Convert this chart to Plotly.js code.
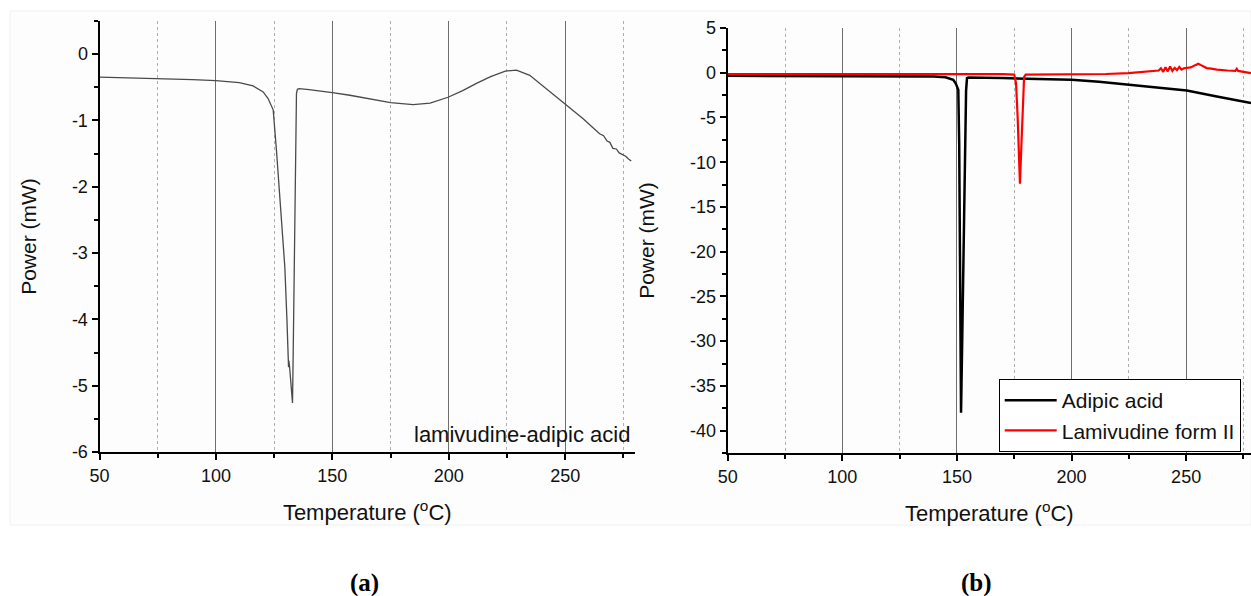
<!DOCTYPE html>
<html>
<head>
<meta charset="utf-8">
<script src="https://cdn.plot.ly/plotly-3.0.1.min.js"></script>
<style>html,body{margin:0;padding:0;background:#fff;}#chart{width:1251px;height:596px;}</style>
</head>
<body>
<div id="chart"></div>
<script>
// Panel (a): lamivudine-adipic acid
const tempA = [50, 60, 75, 90, 100, 110, 116, 120.3, 122.4, 124.6, 126.0, 127.5, 128.9, 129.6, 130.5, 131.0, 131.2, 131.3, 131.6, 132.3, 132.9, 133.2, 133.6, 134.0, 134.3, 134.6, 135.0, 135.8, 140, 144.6, 150, 157.5, 165, 175, 184.7, 192, 199.7, 206, 211.9, 218, 224.3, 229.1, 234.8, 241.9, 249.5, 257.6, 264.8, 266.5, 268, 269.2, 270.5, 272, 273.2, 274.4, 276, 277.2, 278.4];
const powerA = [-0.347, -0.355, -0.367, -0.385, -0.40, -0.43, -0.48, -0.57, -0.67, -0.84, -1.45, -2.2, -2.96, -3.21, -4.0, -4.62, -4.72, -4.62, -4.7, -5.0, -5.26, -4.5, -3.46, -2.4, -1.45, -0.59, -0.53, -0.52, -0.535, -0.553, -0.58, -0.62, -0.67, -0.73, -0.76, -0.74, -0.65, -0.55, -0.44, -0.34, -0.256, -0.24, -0.32, -0.52, -0.74, -0.97, -1.20, -1.23, -1.31, -1.33, -1.42, -1.43, -1.49, -1.51, -1.54, -1.58, -1.61];

// Panel (b): Adipic acid
const tempAdipic = [50, 75, 100, 125, 140, 145, 148.4, 149.5, 150.6, 151.0, 151.4, 151.8, 152.3, 153.0, 153.6, 154.0, 154.4, 155, 170, 185, 200, 212, 224.8, 237, 250.3, 263.4, 275, 278.3];
const powerAdipic = [-0.34, -0.35, -0.37, -0.39, -0.42, -0.5, -0.78, -1.2, -1.9, -8, -25, -38, -30, -18, -8, -2, -0.6, -0.52, -0.6, -0.68, -0.78, -1.0, -1.34, -1.65, -1.98, -2.65, -3.21, -3.39];

// Panel (b): Lamivudine form II
const tempLami = [50, 100, 150, 170, 175, 175.8, 176.5, 177.0, 177.5, 178.0, 178.6, 179.3, 180, 200, 215, 224.8, 230, 235.7, 238, 239, 240, 241, 242, 243, 244, 245, 246, 247, 248, 249, 250.3, 252, 254, 255.3, 256.5, 258, 259, 261, 263.4, 268, 271.5, 272.1, 272.7, 275, 278.3];
const powerLami = [-0.15, -0.13, -0.11, -0.15, -0.2, -1.2, -5, -9.5, -12.4, -9, -4, -0.5, -0.22, -0.2, -0.14, -0.04, 0.08, 0.22, 0.25, 0.5, 0.1, 0.6, 0.15, 0.7, 0.2, 0.55, 0.3, 0.65, 0.35, 0.5, 0.52, 0.6, 0.85, 1.0, 0.85, 0.7, 0.52, 0.45, 0.34, 0.25, 0.22, 0.45, 0.2, 0.1, -0.04];

// Tick labels
const xTicks = [50, 100, 150, 200, 250];
const xTickText = ['50', '100', '150', '200', '250'];
const yTicksA = [0, -1, -2, -3, -4, -5, -6];
const yTickTextA = ['0', '-1', '-2', '-3', '-4', '-5', '-6'];
const yTicksB = [5, 0, -5, -10, -15, -20, -25, -30, -35, -40];
const yTickTextB = ['5', '0', '-5', '-10', '-15', '-20', '-25', '-30', '-35', '-40'];

const FONT = 'Liberation Sans, Arial, sans-serif';

const traces = [
  {x: tempA, y: powerA, type: 'scatter', mode: 'lines', name: 'lamivudine-adipic acid',
   line: {color: '#4a4a4a', width: 1.3}, xaxis: 'x', yaxis: 'y', showlegend: false},
  {x: tempAdipic, y: powerAdipic, type: 'scatter', mode: 'lines', name: 'Adipic acid',
   line: {color: '#000000', width: 2.5}, xaxis: 'x2', yaxis: 'y2'},
  {x: tempLami, y: powerLami, type: 'scatter', mode: 'lines', name: 'Lamivudine form II',
   line: {color: '#ff0000', width: 2.2}, xaxis: 'x2', yaxis: 'y2'}
];

function xAxis(domain, range, anchor) {
  return {
    domain: domain, range: range, anchor: anchor,
    tickmode: 'array', tickvals: xTicks, ticktext: xTickText,
    ticks: 'outside', ticklen: 6, tickwidth: 2, tickcolor: '#000',
    showline: true, linewidth: 2, linecolor: '#000',
    showgrid: true, gridcolor: '#6e6e6e', gridwidth: 1,
    zeroline: false,
    minor: {tickmode: 'linear', tick0: 50, dtick: 25, ticks: 'outside', ticklen: 4, tickwidth: 2, tickcolor: '#000',
            showgrid: true, gridcolor: '#b0b0b0', gridwidth: 1, griddash: 'dot'},
    tickfont: {family: FONT, size: 18, color: '#111'},
    title: {text: 'Temperature (<sup>o</sup>C)', font: {family: FONT, size: 22, color: '#111'}, standoff: 20},
    automargin: false, fixedrange: true
  };
}
function yAxis(domain, range, anchor, tv, tt, minorDt) {
  return {
    domain: domain, range: range, anchor: anchor,
    tickmode: 'array', tickvals: tv, ticktext: tt,
    ticks: 'outside', ticklen: 6, tickwidth: 2, tickcolor: '#000',
    showline: true, linewidth: 2, linecolor: '#000',
    showgrid: false, zeroline: false,
    minor: {tickmode: 'linear', tick0: 0, dtick: minorDt, ticks: 'outside', ticklen: 4, tickwidth: 2, tickcolor: '#000', showgrid: false},
    tickfont: {family: FONT, size: 18, color: '#111'},
    title: {text: 'Power (mW)', font: {family: FONT, size: 21, color: '#111'}, standoff: 30},
    automargin: false, fixedrange: true
  };
}

const layout = {
  width: 1251, height: 596,
  margin: {l: 0, r: 0, t: 0, b: 0},
  paper_bgcolor: '#ffffff', plot_bgcolor: 'rgba(0,0,0,0)',
  font: {family: FONT, color: '#111'},
  xaxis: xAxis([99.5/1251, 635/1251], [50, 280], 'y'),
  yaxis: yAxis([144/596, 575/596], [-6, 0.5], 'x', yTicksA, yTickTextA, 0.5),
  xaxis2: xAxis([727.7/1251, 1], [50, 278.3], 'y2'),
  yaxis2: yAxis([143/596, 568/596], [-42.5, 5], 'x2', yTicksB, yTickTextB, 2.5),
  showlegend: true,
  legend: {
    x: 998.7/1251, xanchor: 'left', y: 1 - 452/596, yanchor: 'bottom',
    bgcolor: '#ffffff', bordercolor: '#000', borderwidth: 1,
    font: {family: FONT, size: 21, color: '#111'},
    itemwidth: 52, tracegroupgap: 0
  },
  shapes: [
    {type: 'rect', xref: 'paper', yref: 'paper', x0: 10/1251, x1: 1, y0: 1 - 525/596, y1: 1 - 11/596,
     line: {color: '#f1f1f1', width: 1}, fillcolor: '#fdfdfd', layer: 'below'}
  ],
  annotations: [
    {text: 'lamivudine-adipic acid', xref: 'paper', yref: 'paper', x: 632/1251, y: 1 - 434/596,
     xanchor: 'right', yanchor: 'middle', showarrow: false, font: {family: FONT, size: 22, color: '#111'}},
    {text: '<b>(a)</b>', xref: 'paper', yref: 'paper', x: 364/1251, y: 1 - 583/596,
     xanchor: 'center', yanchor: 'middle', showarrow: false, font: {family: 'Liberation Serif, Times New Roman, serif', size: 25, color: '#000'}},
    {text: '<b>(b)</b>', xref: 'paper', yref: 'paper', x: 976/1251, y: 1 - 583/596,
     xanchor: 'center', yanchor: 'middle', showarrow: false, font: {family: 'Liberation Serif, Times New Roman, serif', size: 25, color: '#000'}}
  ]
};

Plotly.newPlot('chart', traces, layout, {displayModeBar: false, staticPlot: true});
</script>
</body>
</html>
